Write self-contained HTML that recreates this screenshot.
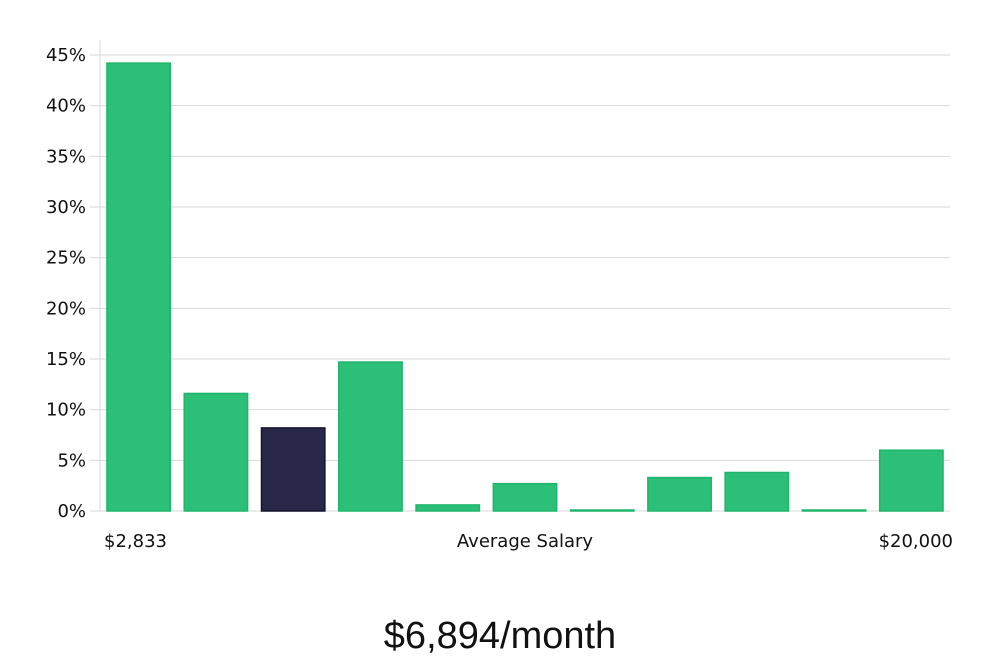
<!DOCTYPE html>
<html><head><meta charset="utf-8"><style>
body{margin:0;background:#fff;width:1000px;height:660px;overflow:hidden}
svg text{font-family:"DejaVu Sans","Liberation Sans",sans-serif;fill:#111}
</style></head><body>
<svg id="c" width="1000" height="660"></svg>
<script>
const categories=["b1","b2","b3","b4","b5","b6","b7","b8","b9","b10","b11"];
const values=[44.2,11.6,8.2,14.7,0.6,2.7,0.1,3.3,3.8,0.1,6.0];
const highlight=[false,false,true,false,false,false,false,false,false,false,false];
const yTicks=[0,5,10,15,20,25,30,35,40,45];
const svg=document.getElementById('c');const NS='http://www.w3.org/2000/svg';
const X0=100,X1=950,Y0=511,YTOP=55,YMAX=45;
const y=v=>Y0-(v/YMAX)*(Y0-YTOP);
const bw=(X1-X0)/categories.length;
const x=i=>X0+i*bw;
function mk(t,a){const e=document.createElementNS(NS,t);for(const k in a)e.setAttribute(k,a[k]);svg.appendChild(e);return e;}
yTicks.forEach(t=>{
 const g=mk('line',{x1:X0,x2:X1,y1:y(t),y2:y(t),stroke:'#d9d9d9','stroke-width':1});
 
 
 const tk=mk('line',{x1:X0-10,x2:X0,y1:y(t),y2:y(t),stroke:'#d9d9d9'});
 
 
 const l=mk('text',{x:X0-14,y:y(t)+6,'text-anchor':'end','font-size':18});
 l.textContent=t+'%';
 
 
});
const ax=mk('line',{x1:X0,x2:X0,y1:40,y2:Y0,stroke:'#d9d9d9'});


values.forEach((v,i)=>{
 const pad=bw*0.09;
 const r=mk('rect',{x:x(i)+pad,y:y(v),width:bw-2*pad,height:Y0-y(v),fill:highlight[i]?'#2a2849':'#2bbf77',stroke:highlight[i]?'#15142e':'#20b56c','stroke-width':1.5});
 
 
});
[['$2,833',104,'start','x-min-label'],['Average Salary',525,'middle','x-axis-title'],['$20,000',953,'end','x-max-label']].forEach(a=>{
 const t=mk('text',{x:a[1],y:547,'text-anchor':a[2],'font-size':18});t.textContent=a[0];
 
 
});
const ti=mk('text',{x:500,y:648,'text-anchor':'middle','font-size':38,style:'font-family:"Liberation Sans",sans-serif;font-weight:300'});
ti.textContent='$6,894/month';


</script>
</body></html>
